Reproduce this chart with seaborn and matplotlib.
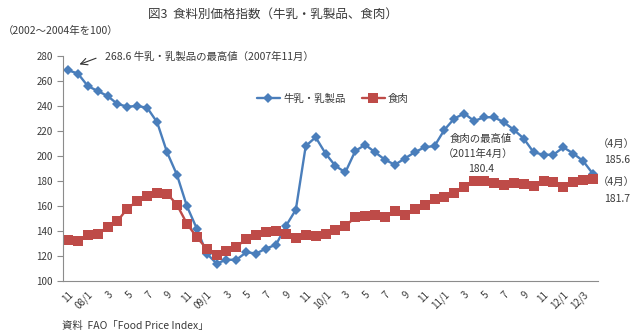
import matplotlib
matplotlib.use("Agg")
import matplotlib.pyplot as plt
import numpy as np
import pandas as pd
import seaborn as sns

# Monthly FAO price index (2002-2004 = 100), Nov 2007 - Apr 2012
dairy = [268.6, 266, 256, 252, 248, 241.6, 239.5, 240, 238.6, 227, 203, 185,
         160, 142, 122, 114, 117, 117, 123, 122, 126, 129, 144, 157, 208, 215,
         202, 192, 187, 204, 209, 203, 197, 193, 198, 203, 207, 208,
         221, 230, 234, 228, 231, 231, 227, 221, 214, 203, 201, 201,
         207, 202, 196, 185.6]
meat = [133, 132, 137, 138, 143, 148, 158, 164, 168, 170.5, 170, 161,
        146, 135, 126, 121, 124, 127.5, 133.5, 137, 139.5, 140, 138, 134.5, 137, 136,
        138, 141, 144, 151, 152, 153, 151, 156, 153, 158, 161, 166,
        167.5, 170.5, 175, 180.4, 180.2, 178.7, 177, 178.5, 177.6, 176.3,
        180.2, 179, 175, 179, 181.2, 181.7]
tick_labels = ["11", "08/1", "3", "5", "7", "9", "11", "09/1", "3", "5", "7", "9",
               "11", "10/1", "3", "5", "7", "9", "11", "11/1", "3", "5", "7", "9",
               "11", "12/1", "12/3"]
series_names = ["牛乳・乳製品", "食肉"]

n = len(dairy)
idx = np.arange(n)
df = pd.DataFrame({
    "month": np.concatenate([idx, idx]),
    "value": dairy + meat,
    "series": [series_names[0]] * n + [series_names[1]] * n,
})

sns.set_theme(style="white")
plt.rcParams["font.family"] = ["Noto Sans CJK JP", "DejaVu Sans"]

BLUE = "#4A7EBB"
RED = "#BE4B48"
TXT = "#3a3a3a"
LW = 1.7
MS = {series_names[0]: 4.6, series_names[1]: 6.6}

fig = plt.figure(figsize=(6.4, 3.34), dpi=100)
ax = fig.add_axes([63 / 640, 1 - 281 / 334, (598 - 63) / 640, (281 - 56) / 334])

sns.lineplot(data=df, x="month", y="value", hue="series", style="series",
             palette={series_names[0]: BLUE, series_names[1]: RED},
             markers={series_names[0]: "D", series_names[1]: "s"},
             dashes=False, linewidth=LW, markeredgewidth=0,
             ax=ax, legend=False)
for line, name in zip(ax.lines, series_names):
    line.set_markersize(MS[name])
    line.set_clip_on(False)

ax.set_xlim(-0.5, n - 0.5)
ax.set_ylim(100, 280)
ax.set_yticks(np.arange(100, 281, 20))
ax.set_xticks(np.arange(0, n, 2))
ax.set_xticklabels(tick_labels, rotation=45, ha="right", rotation_mode="anchor")
ax.set_xticks(np.arange(-0.5, n, 1), minor=True)
ax.set_xlabel("")
ax.set_ylabel("")
for s in ["top", "right"]:
    ax.spines[s].set_visible(False)
for s in ["left", "bottom"]:
    ax.spines[s].set_color("#8c8c8c")
    ax.spines[s].set_linewidth(0.8)
ax.tick_params(axis="x", which="major", length=0, labelsize=7, colors=TXT, pad=6)
ax.tick_params(axis="x", which="minor", length=4, width=0.8, color="#8c8c8c", direction="out")
ax.tick_params(axis="y", length=4, width=0.8, color="#8c8c8c", direction="out",
               labelsize=7, labelcolor=TXT, left=True)

# legend
from matplotlib.lines import Line2D
handles = [Line2D([], [], color=BLUE, lw=LW, marker="D", ms=MS[series_names[0]], mew=0),
           Line2D([], [], color=RED, lw=LW, marker="s", ms=MS[series_names[1]], mew=0)]
ax.legend(handles, series_names, loc="center left", bbox_to_anchor=(0.345, 0.81),
          ncol=2, frameon=False, fontsize=7.5, handlelength=2.2, columnspacing=1.6,
          handletextpad=0.3, labelcolor=TXT)

# titles and notes
fig.text(273 / 640, 1 - 14 / 334, "図3  食料別価格指数（牛乳・乳製品、食肉）",
         ha="center", va="center", fontsize=9, color=TXT)
fig.text(3 / 640, 1 - 31 / 334, "（2002～2004年を100）", ha="left", va="center",
         fontsize=7.5, color=TXT)
fig.text(62 / 640, 1 - 326 / 334, "資料  FAO「Food Price Index」", ha="left", va="center",
         fontsize=7.5, color=TXT)

# annotations
ax.annotate("", xy=(0.9, 272.5), xytext=(3.1, 279),
            arrowprops=dict(arrowstyle="->", color="#333333", lw=0.8), annotation_clip=False)
ax.text(3.7, 279.5, f"{dairy[0]} 牛乳・乳製品の最高値（2007年11月）", ha="left", va="center",
        fontsize=7.5, color=TXT, clip_on=False)

peak_i = 41
ax.text(peak_i + 0.7, 213.6, "食肉の最高値", ha="center", va="center", fontsize=7.5, color=TXT)
ax.text(peak_i + 0.4, 201.6, "（2011年4月）", ha="center", va="center", fontsize=7.5, color=TXT)
ax.text(peak_i + 0.7, 189.6, f"{meat[peak_i]}", ha="center", va="center", fontsize=7.5, color=TXT)

ax.text(55.3, 209.6, "（4月）", ha="center", va="center", fontsize=7.5, color=TXT, clip_on=False)
ax.text(55.4, 196.8, f"{dairy[-1]}", ha="center", va="center", fontsize=7.5, color=TXT, clip_on=False)
ax.text(55.3, 179.2, "（4月）", ha="center", va="center", fontsize=7.5, color=TXT, clip_on=False)
ax.text(55.4, 165.6, f"{meat[-1]}", ha="center", va="center", fontsize=7.5, color=TXT, clip_on=False)

fig.savefig("out.png", dpi=100, facecolor="white")
